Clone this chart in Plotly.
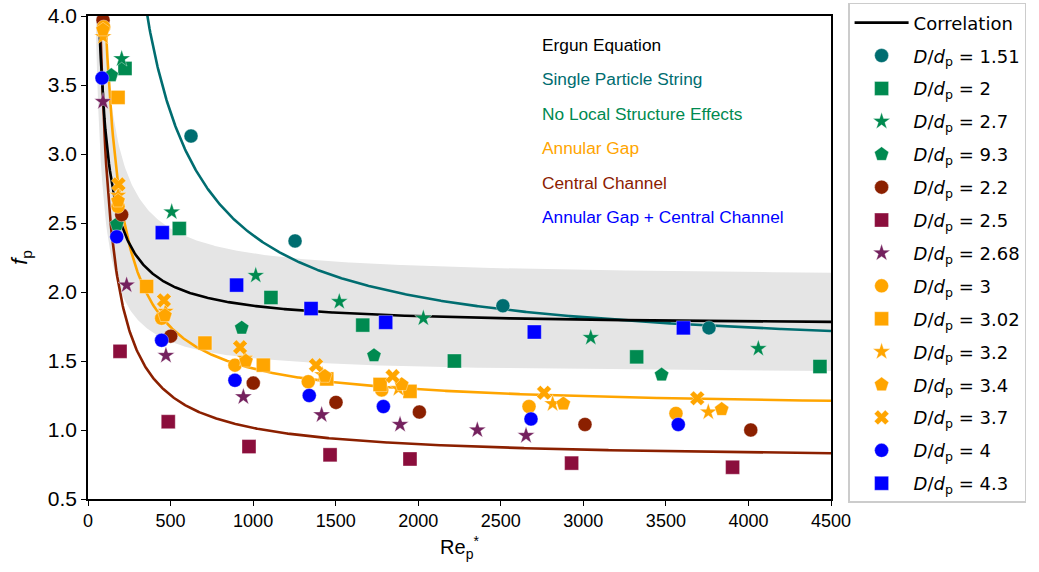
import numpy as np
import plotly.graph_objects as go

# ---- measured data: particle Reynolds number Re_p* and friction factor f_p ----
re_151 = [624, 1254, 2513, 3761]
f_151 = [3.13, 2.37, 1.90, 1.74]

re_2 = [224, 553, 1108, 1664, 2219, 3323, 4433]
f_2 = [3.62, 2.46, 1.96, 1.76, 1.50, 1.53, 1.46]

re_27 = [204, 507, 1016, 1522, 2031, 3045, 4060]
f_27 = [3.69, 2.58, 2.12, 1.93, 1.81, 1.67, 1.59]

re_93 = [141, 175, 931, 1732, 3474]
f_93 = [3.57, 2.49, 1.74, 1.54, 1.40]

re_22 = [91, 204, 501, 1001, 1502, 2007, 3010, 4014]
f_22 = [3.97, 2.56, 1.68, 1.34, 1.20, 1.13, 1.04, 1.00]

re_25 = [194, 486, 975, 1466, 1950, 2929, 3904]
f_25 = [1.57, 1.06, 0.88, 0.82, 0.79, 0.76, 0.73]

re_268 = [91, 234, 472, 941, 1415, 1890, 2358, 2653]
f_268 = [3.38, 2.05, 1.54, 1.24, 1.11, 1.04, 1.00, 0.96]

re_3 = [95, 182, 446, 890, 1334, 1779, 2671, 3561]
f_3 = [3.92, 2.62, 1.81, 1.47, 1.35, 1.29, 1.17, 1.12]

re_302 = [182, 355, 708, 1062, 1446, 1769, 1950]
f_302 = [3.41, 2.04, 1.63, 1.47, 1.37, 1.33, 1.28]

re_32 = [91, 182, 470, 950, 1420, 1880, 2814, 3757]
f_32 = [3.85, 2.70, 1.86, 1.52, 1.40, 1.30, 1.19, 1.13]

re_34 = [91, 182, 466, 957, 1435, 1900, 2879, 3838]
f_34 = [3.90, 2.66, 1.83, 1.50, 1.39, 1.33, 1.19, 1.15]

re_37 = [185, 460, 921, 1381, 1845, 2762, 3690]
f_37 = [2.78, 1.94, 1.60, 1.47, 1.39, 1.27, 1.23]

re_4 = [85, 174, 446, 890, 1340, 1789, 2683, 3575]
f_4 = [3.55, 2.40, 1.65, 1.36, 1.25, 1.17, 1.08, 1.04]

re_43 = [450, 900, 1351, 1803, 2703, 3606]
f_43 = [2.43, 2.05, 1.88, 1.78, 1.71, 1.74]

# ---- correlation coefficients, f = A / Re + B ----
ERGUN_A, ERGUN_B = 150.0, 1.75
STRING_A, STRING_B = 890.0, 1.52
GAP_A, GAP_B = 300.0, 1.145
CHANNEL_A, CHANNEL_B = 236.0, 0.779
BAND = 0.20  # +/- 20 % around the correlation

TEAL = "#006D70"
GREEN = "#008A50"
ORANGE = "#FFA500"
BROWN = "#8B2000"
CRIMSON = "#8B0E3C"
PURPLE = "#74215E"
BLUE = "#0000FF"

fig = go.Figure()

re_band = np.linspace(48, 4500, 600)
ergun_band = ERGUN_A / re_band + ERGUN_B
fig.add_trace(go.Scatter(
    x=np.concatenate([re_band, re_band[::-1]]),
    y=np.concatenate([(1 + BAND) * ergun_band, ((1 - BAND) * ergun_band)[::-1]]),
    fill="toself", fillcolor="#E5E5E5", line=dict(width=0),
    mode="lines", showlegend=False, hoverinfo="skip"))


def curve(a, b, start, color, name, legend=False):
    re = np.linspace(start, 4500, 800)
    fig.add_trace(go.Scatter(x=re, y=a / re + b, mode="lines",
                             line=dict(color=color, width=2.6),
                             name=name, showlegend=legend,
                             legendgroup=name))


curve(CHANNEL_A, CHANNEL_B, 60, BROWN, "channel")
curve(GAP_A, GAP_B, 90, ORANGE, "gap")
curve(STRING_A, STRING_B, 200, TEAL, "string")
curve(ERGUN_A, ERGUN_B, 55, "black", "Correlation", legend=True)

series = [
    ("1.51", re_151, f_151, TEAL, "circle", 14),
    ("2", re_2, f_2, GREEN, "square", 14),
    ("2.7", re_27, f_27, GREEN, "star", 13),
    ("9.3", re_93, f_93, GREEN, "pentagon", 15),
    ("2.2", re_22, f_22, BROWN, "circle", 14),
    ("2.5", re_25, f_25, CRIMSON, "square", 14),
    ("2.68", re_268, f_268, PURPLE, "star", 13),
    ("3", re_3, f_3, ORANGE, "circle", 14),
    ("3.02", re_302, f_302, ORANGE, "square", 14),
    ("3.2", re_32, f_32, ORANGE, "star", 13),
    ("3.4", re_34, f_34, ORANGE, "pentagon", 15),
    ("3.7", re_37, f_37, ORANGE, "x", 13),
    ("4", re_4, f_4, BLUE, "circle", 14),
    ("4.3", re_43, f_43, BLUE, "square", 14),
]
for ratio, x, y, color, symbol, size in series:
    label = f"<i>D</i>/<i>d</i><sub>p</sub> = {ratio}"
    fig.add_trace(go.Scatter(
        x=x, y=y, mode="markers", name=label, legendgroup=label,
        marker=dict(color=color, symbol=symbol, size=size,
                    line=dict(width=0.6, color="rgba(255,255,255,0.6)"))))

notes = [
    ("Ergun Equation", "black"),
    ("Single Particle String", TEAL),
    ("No Local Structure Effects", GREEN),
    ("Annular Gap", ORANGE),
    ("Central Channel", BROWN),
    ("Annular Gap + Central Channel", BLUE),
]
for i, (text, color) in enumerate(notes):
    fig.add_annotation(x=0.608, y=0.94 - i * 0.0714, xref="paper", yref="paper",
                       text=text, showarrow=False, xanchor="left",
                       yanchor="middle", font=dict(size=17.3, color=color))

axis_common = dict(showline=True, linecolor="black", linewidth=1.5, mirror=True,
                   ticks="outside", ticklen=5, tickwidth=1.3, tickcolor="black",
                   showgrid=False, zeroline=False)

fig.update_xaxes(range=[0, 4500], tickvals=list(range(0, 4501, 500)),
                 tickfont=dict(size=18, color="black"),
                 title=dict(text="Re<sub>p</sub><sup>*</sup>",
                            font=dict(size=20, color="black"), standoff=10),
                 **axis_common)
fig.update_yaxes(range=[0.5, 4.0], tickvals=[0.5, 1.0, 1.5, 2.0, 2.5, 3.0, 3.5, 4.0],
                 tickformat=".1f", tickfont=dict(size=21, color="black"),
                 title=dict(text="<i>f</i><sub>p</sub>",
                            font=dict(size=22, color="black"), standoff=14),
                 **axis_common)

fig.update_layout(
    width=1039, height=572,
    margin=dict(l=88, r=208, t=16, b=73, autoexpand=False),
    paper_bgcolor="white", plot_bgcolor="white",
    font=dict(family="Liberation Sans, Arial, sans-serif", color="black"),
    legend=dict(x=1.023, y=1.027, xanchor="left", yanchor="top",
                bordercolor="#CCCCCC", borderwidth=1.5, bgcolor="white",
                font=dict(family="DejaVu Sans", size=18, color="black"),
                tracegroupgap=6.5, itemsizing="trace", itemwidth=54,
                maxheight=1.0),
)

fig.write_html("out.html")
